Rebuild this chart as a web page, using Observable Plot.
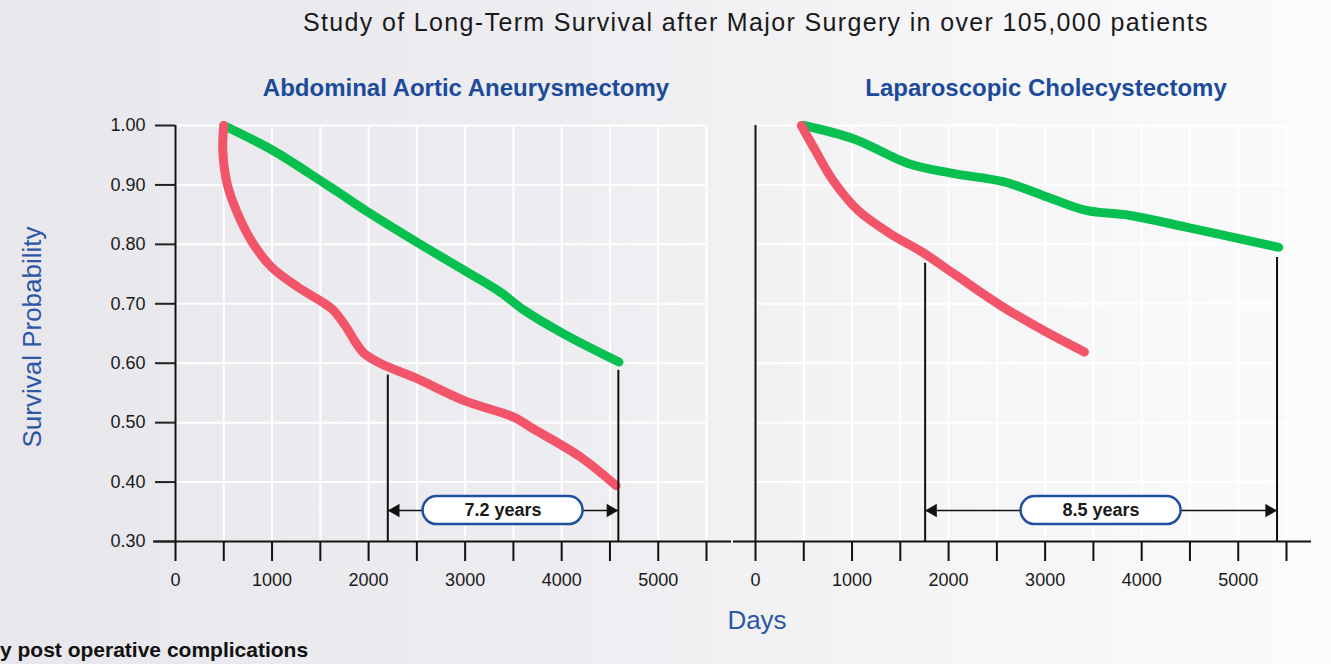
<!DOCTYPE html>
<html>
<head>
<meta charset="utf-8">
<script src="https://cdn.jsdelivr.net/npm/d3@7"></script>
<script src="https://cdn.jsdelivr.net/npm/@observablehq/plot@0.6"></script>
<style>
html, body { margin: 0; padding: 0; }
#wrap {
  position: relative; width: 1331px; height: 664px; overflow: hidden;
  background: linear-gradient(to right, #e8e7eb 0%, #edecf0 40%, #f5f5f7 70%, #fbfbfc 100%);
  font-family: "Liberation Sans", Arial, sans-serif;
}
#chart { position: absolute; left: 0; top: 0; }
.t { position: absolute; white-space: nowrap; line-height: 1; }
#title { left: 756px; top: 10px; transform: translateX(-50%); font-size: 25px; letter-spacing: 1.35px; color: #1a1a1a; }
#ylab { left: 32px; top: 337px; transform: translate(-50%, -50%) rotate(-90deg); font-size: 26px; color: #2c56a6; }
#xlab { left: 757px; top: 607px; transform: translateX(-50%); font-size: 26px; color: #2c56a6; }
#cap { left: 0px; top: 639px; font-size: 21px; font-weight: bold; color: #111; }
</style>
</head>
<body>
<div id="wrap">
  <div id="chart"></div>
  <div class="t" id="title">Study of Long-Term Survival after Major Surgery in over 105,000 patients</div>
  <div class="t" id="ylab">Survival Probability</div>
  <div class="t" id="xlab">Days</div>
  <div class="t" id="cap">y post operative complications</div>
</div>
<script>
// Panels and groups
const panels = ["Abdominal Aortic Aneurysmectomy", "Laparoscopic Cholecystectomy"];
const groups = ["No complications", "Post operative complications"];

// Abdominal Aortic Aneurysmectomy
const aaaCleanDays = [500, 1010, 1372, 1682, 2026, 2526, 3026, 3370, 3611, 4025, 4593];
const aaaCleanSurv = [1.00, 0.958, 0.921, 0.888, 0.851, 0.801, 0.753, 0.719, 0.689, 0.649, 0.602];
const aaaCompDays = [500, 490, 535, 630, 786, 992, 1268, 1520, 1630, 1768, 1854, 1957, 2130, 2474, 2991, 3508, 3681, 4197, 4563];
const aaaCompSurv = [1.00, 0.958, 0.902, 0.857, 0.806, 0.762, 0.728, 0.703, 0.690, 0.661, 0.638, 0.616, 0.599, 0.576, 0.537, 0.509, 0.492, 0.442, 0.394];

// Laparoscopic Cholecystectomy
const lcCleanDays = [500, 1027, 1581, 2060, 2577, 2984, 3426, 3869, 4459, 5420];
const lcCleanSurv = [1.00, 0.977, 0.936, 0.919, 0.905, 0.882, 0.857, 0.849, 0.829, 0.795];
const lcCompDays = [475, 620, 805, 1064, 1396, 1727, 2060, 2540, 2984, 3407];
const lcCompSurv = [1.00, 0.958, 0.907, 0.857, 0.818, 0.787, 0.750, 0.697, 0.655, 0.619];

// Survival gap annotations
const gapLabels = ["7.2 years", "8.5 years"];
const gapFromDay = [2199, 1757];
const gapToDay = [4587, 5402];
const gapFromTop = [0.580, 0.768];
const gapToTop = [0.588, 0.778];
const gapArrowSurv = [0.352, 0.352];

// Ticks
const yTicks = [0.3, 0.4, 0.5, 0.6, 0.7, 0.8, 0.9, 1.0];
const xTicks = [0, 500, 1000, 1500, 2000, 2500, 3000, 3500, 4000, 4500, 5000, 5500];
const xLabels = [0, 1000, 2000, 3000, 4000, 5000];

const series = [
  {panel: panels[0], group: groups[0], days: aaaCleanDays, surv: aaaCleanSurv},
  {panel: panels[0], group: groups[1], days: aaaCompDays, surv: aaaCompSurv},
  {panel: panels[1], group: groups[0], days: lcCleanDays, surv: lcCleanSurv},
  {panel: panels[1], group: groups[1], days: lcCompDays, surv: lcCompSurv}
];
const rows = series.flatMap(s => s.days.map((d, i) => ({panel: s.panel, group: s.group, day: d, surv: s.surv[i]})));
const gaps = panels.map((p, i) => ({
  panel: p, label: gapLabels[i], from: gapFromDay[i], to: gapToDay[i],
  fromTop: gapFromTop[i], toTop: gapToTop[i], arrow: gapArrowSurv[i],
  mid: (gapFromDay[i] + gapToDay[i]) / 2
}));

const chart = Plot.plot({
  width: 1331, height: 664,
  marginLeft: 174, marginRight: 44, marginTop: 125, marginBottom: 123,
  facet: {marginTop: 0, marginBottom: 0, marginLeft: 0, marginRight: 0},
  style: {fontFamily: "'Liberation Sans', Arial, sans-serif", fontSize: "18px", background: "transparent", overflow: "visible", color: "#1a1a1a"},
  x: {domain: [0, 5500]},
  y: {domain: [0.3, 1.0]},
  fx: {domain: panels, paddingInner: 0.0843, paddingOuter: 0, axis: null, label: null},
  color: {domain: groups, range: ["#07c04f", "#f2546a"]},
  marks: [
    Plot.gridY(yTicks, {stroke: "white", strokeOpacity: 1, strokeWidth: 2}),
    Plot.gridX(xTicks, {stroke: "white", strokeOpacity: 1, strokeWidth: 2}),
    Plot.ruleY([yTicks[0]], {insetLeft: -22, insetRight: -25, stroke: "#111", strokeWidth: 2}),
    Plot.ruleX([0], {y1: yTicks[0], y2: yTicks[yTicks.length - 1], stroke: "#111", strokeWidth: 2}),
    Plot.axisY(yTicks, {tickSize: 20, tickPadding: 10, tickFormat: ".2f", label: null, fontSize: 18, stroke: "#222", strokeWidth: 2, fill: "#1a1a1a"}),
    Plot.axisX(xTicks, {tickSize: 20, tickFormat: () => "", label: null, stroke: "#111", strokeWidth: 2}),
    Plot.axisX(xLabels, {tickSize: 0, tickPadding: 32, tickFormat: "d", label: null, fontSize: 18, fill: "#1a1a1a"}),
    Plot.line(rows, {x: "day", y: "surv", fx: "panel", z: "group", stroke: "group", strokeWidth: 9, strokeLinecap: "round", strokeLinejoin: "round", curve: "catmull-rom"}),
    Plot.ruleX(gaps, {fx: "panel", x: "from", y1: yTicks[0], y2: "fromTop", stroke: "#111", strokeWidth: 2}),
    Plot.ruleX(gaps, {fx: "panel", x: "to", y1: yTicks[0], y2: "toTop", stroke: "#111", strokeWidth: 2}),
    Plot.ruleY(gaps, {fx: "panel", y: "arrow", x1: "from", x2: "to", stroke: "#111", strokeWidth: 1.5}),
    Plot.dot(gaps, {fx: "panel", x: "from", y: "arrow", symbol: "triangle", r: 5, rotate: -90, dx: 7.8, fill: "#111"}),
    Plot.dot(gaps, {fx: "panel", x: "to", y: "arrow", symbol: "triangle", r: 5, rotate: 90, dx: -7.8, fill: "#111"}),
    Plot.rect(gaps, {fx: "panel", x1: "mid", x2: "mid", y1: "arrow", y2: "arrow", insetLeft: -80, insetRight: -80, insetTop: -14, insetBottom: -14, rx: 14, fill: "white", stroke: "#1f4f9e", strokeWidth: 2.5}),
    Plot.text(gaps, {fx: "panel", x: "mid", y: "arrow", text: "label", fontSize: 18, fontWeight: "bold", fill: "#1a1a1a"}),
    Plot.text(panels, {fx: d => d, text: d => d, frameAnchor: "top", lineAnchor: "middle", dy: -37, dx: 25, fontSize: 24, fontWeight: "bold", fill: "#1d4b9b"})
  ]
});
document.getElementById("chart").appendChild(chart);
</script>
</body>
</html>
